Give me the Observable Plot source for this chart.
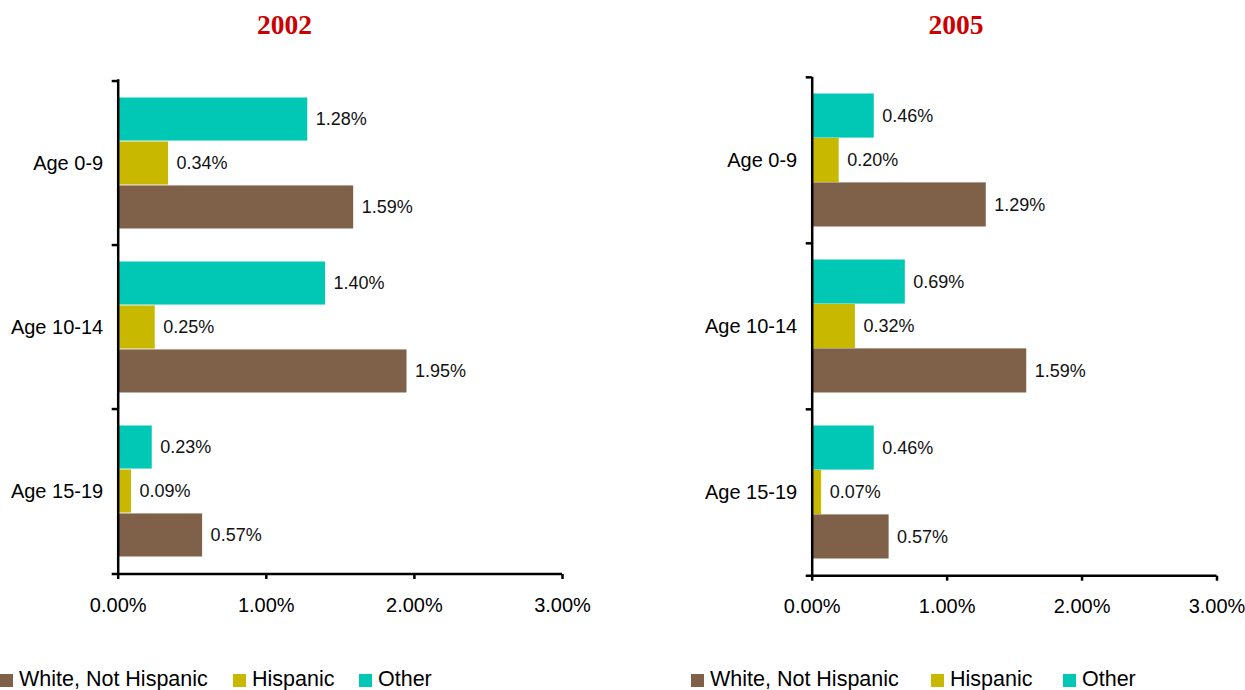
<!DOCTYPE html>
<html>
<head>
<meta charset="utf-8">
<script src="https://cdn.jsdelivr.net/npm/d3@7"></script>
<script src="https://cdn.jsdelivr.net/npm/@observablehq/plot@0.6"></script>
<style>
  html, body { margin: 0; padding: 0; background: #fff; }
  #page { position: relative; width: 1245px; height: 690px; overflow: hidden; font-family: "Liberation Sans", Arial, sans-serif; color: #000; }
  .title { position: absolute; top: 8px; width: 200px; text-align: center; font-family: "Liberation Serif", "Times New Roman", serif; font-weight: bold; font-size: 27.5px; line-height: 34px; color: #cc0000; }
  .panel { position: absolute; top: 0; }
  .swatch { position: absolute; top: 674px; width: 13px; height: 13px; }
  .legtext { position: absolute; top: 669px; font-size: 21.5px; line-height: 21px; white-space: nowrap; }
</style>
</head>
<body>
<div id="page"></div>
<script>
// Age groups (y categories) and series
const ages = ["Age 0-9", "Age 10-14", "Age 15-19"];
const series = ["White, Not Hispanic", "Hispanic", "Other"];
const colors = ["#7f6149", "#c8b900", "#00c8b5"];

// Percent of population, by age group, for each year
const years = ["2002", "2005"];
const white2002 = [1.59, 1.95, 0.57];
const hispanic2002 = [0.34, 0.25, 0.09];
const other2002 = [1.28, 1.40, 0.23];
const white2005 = [1.29, 1.59, 0.57];
const hispanic2005 = [0.20, 0.32, 0.07];
const other2005 = [0.46, 0.69, 0.46];

const xTicks = [0, 1, 2, 3];
const pct = d => d.toFixed(2) + "%";

const page = document.getElementById("page");

function rows(values) {
  return ages.map((age, i) => ({age, value: values[i]}));
}

function panel({year, white, hispanic, other, left, width, marginLeft, marginRight, marginTop, height, titleX, legendX}) {
  const marginBottom = 50;
  const bw = (height - marginTop - marginBottom) / ages.length; // band height
  const pad = 16.5;                                             // gap above/below each group of bars
  const h = (bw / 2 - pad) / 1.5;                              // bar thickness

  const groups = [
    {data: rows(other), color: colors[2], top: pad, bottom: bw - pad - h, dy: -h},
    {data: rows(hispanic), color: colors[1], top: pad + h, bottom: pad + h, dy: 0},
    {data: rows(white), color: colors[0], top: bw - pad - h, bottom: pad, dy: h}
  ];

  const marks = [];
  for (const g of groups) {
    marks.push(Plot.barX(g.data, {x: "value", y: "age", fill: g.color, insetTop: g.top, insetBottom: g.bottom, insetLeft: 1}));
    marks.push(Plot.text(g.data, {x: "value", y: "age", text: d => pct(d.value), dx: 8, dy: g.dy, textAnchor: "start", fontSize: 18, fill: "#111"}));
  }
  // vertical axis line
  marks.push(Plot.ruleX([0], {stroke: "#000", strokeWidth: 2.5}));
  // boundary ticks between age groups
  marks.push(Plot.ruleY(ages, {y: d => d, x1: () => 0, x2: () => 0, insetLeft: -6, dy: -bw / 2, stroke: "#000", strokeWidth: 2.5}));
  // bottom axis line (with the last boundary tick)
  marks.push(Plot.ruleY([ages[ages.length - 1]], {y: d => d, x1: () => 0, x2: () => xTicks[xTicks.length - 1], insetLeft: -6, dy: bw / 2, stroke: "#000", strokeWidth: 2.5}));
  marks.push(Plot.axisY({tickSize: 0, tickPadding: 15, fontSize: 20, fill: "#000", label: null}));
  marks.push(Plot.axisX({ticks: xTicks, tickFormat: pct, tickSize: 5, tickPadding: 18, strokeWidth: 2.5, stroke: "#000", fontSize: 20, fill: "#000", label: null}));

  const chart = Plot.plot({
    width, height, marginLeft, marginRight, marginTop, marginBottom,
    style: {fontFamily: "'Liberation Sans', Arial, sans-serif", fontSize: "20px", color: "#000", background: "transparent", overflow: "visible"},
    x: {domain: [xTicks[0], xTicks[xTicks.length - 1]], axis: null, label: null},
    y: {domain: ages, padding: 0, axis: null, label: null},
    marks
  });
  const wrap = document.createElement("div");
  wrap.className = "panel";
  wrap.style.left = left + "px";
  wrap.appendChild(chart);
  page.appendChild(wrap);

  const t = document.createElement("div");
  t.className = "title";
  t.textContent = year;
  t.style.left = (titleX - 100) + "px";
  page.appendChild(t);

  // legend below the chart
  series.forEach((name, i) => {
    const sw = document.createElement("div");
    sw.className = "swatch";
    sw.style.left = legendX[i] + "px";
    sw.style.background = colors[i];
    page.appendChild(sw);
    const lt = document.createElement("div");
    lt.className = "legtext";
    lt.style.left = (legendX[i] + 19) + "px";
    lt.textContent = name;
    page.appendChild(lt);
  });
}

panel({year: years[0], white: white2002, hispanic: hispanic2002, other: other2002,
  left: 0, width: 620, marginLeft: 117.7, marginRight: 58, marginTop: 79.3, height: 624,
  titleX: 284.5, legendX: [0, 233, 359]});
panel({year: years[1], white: white2005, hispanic: hispanic2005, other: other2005,
  left: 625, width: 620, marginLeft: 186.7, marginRight: 28.5, marginTop: 76.7, height: 625.7,
  titleX: 956, legendX: [691, 931, 1063]});
</script>
</body>
</html>
